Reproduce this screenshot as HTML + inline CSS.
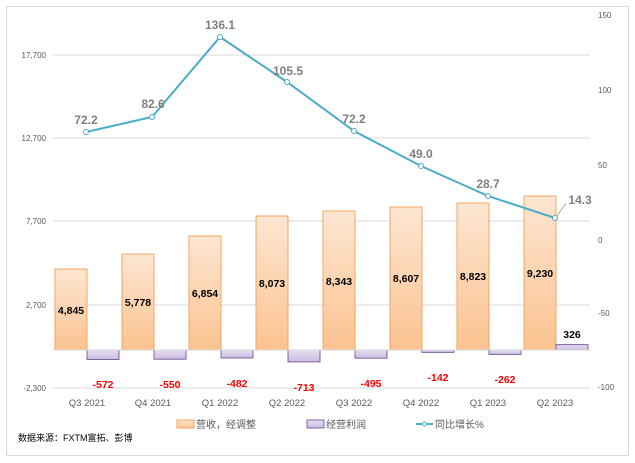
<!DOCTYPE html><html><head><meta charset="utf-8"><style>body{margin:0;background:#fff}svg{display:block;font-family:"Liberation Sans","Noto Sans CJK SC",sans-serif}</style></head><body>
<svg width="635" height="463" viewBox="0 0 635 463">
<rect x="6.5" y="6.5" width="622" height="449" fill="#fff" stroke="#d9d9d9"/>
<g stroke="#d9d9d9" stroke-width="1">
<line x1="53" x2="590" y1="55" y2="55"/><line x1="53" x2="590" y1="138" y2="138"/><line x1="53" x2="590" y1="221" y2="221"/><line x1="53" x2="590" y1="305" y2="305"/><line x1="53" x2="590" y1="388" y2="388"/>
</g>
<g font-size="8" fill="#595959" text-anchor="end">
<text x="46" y="58">17,700</text><text x="46" y="141">12,700</text><text x="46" y="224">7,700</text><text x="46" y="308">2,700</text><text x="46" y="391">-2,300</text>
</g>
<g font-size="8" fill="#595959">
<text x="598" y="18">150</text><text x="598" y="93">100</text><text x="598" y="168">50</text><text x="598" y="243">0</text><text x="598" y="316">-50</text><text x="598" y="390">-100</text>
</g>
<defs><linearGradient id="og" x1="0" y1="0" x2="0" y2="1"><stop offset="0" stop-color="#fde6d2"/><stop offset="1" stop-color="#fbc390"/></linearGradient>
<linearGradient id="pg" x1="0" y1="0" x2="0" y2="1"><stop offset="0" stop-color="#e6e0f0"/><stop offset="1" stop-color="#c8bce0"/></linearGradient></defs>
<g stroke="#f4a460" stroke-width="1" fill="url(#og)">
<rect x="55" y="269" width="32" height="81"/><rect x="122" y="254" width="32" height="96"/><rect x="189" y="236" width="32" height="114"/><rect x="256" y="216" width="32" height="134"/><rect x="323" y="211" width="32" height="139"/><rect x="390" y="207" width="32" height="143"/><rect x="457" y="203" width="32" height="147"/><rect x="524" y="196" width="32" height="154"/>
</g>
<g stroke="#8064a2" stroke-width="1" fill="url(#pg)">
<rect x="87" y="350" width="32" height="9.5"/><rect x="154" y="350" width="32" height="9.2"/><rect x="221" y="350" width="32" height="8"/><rect x="288" y="350" width="32" height="11.9"/><rect x="355" y="350" width="32" height="8.2"/><rect x="422" y="350" width="32" height="2.4"/><rect x="489" y="350" width="32" height="4.4"/><rect x="556" y="344.6" width="32" height="5.4"/>
</g>
<line x1="53" x2="590" y1="350" y2="350" stroke="#d9d9d9"/>
<g font-size="10.5" font-weight="bold" fill="#000" text-anchor="middle">
<text x="71" y="314">4,845</text><text x="138" y="306">5,778</text><text x="205" y="297">6,854</text><text x="272" y="287">8,073</text><text x="339" y="285">8,343</text><text x="406" y="282">8,607</text><text x="473" y="280">8,823</text><text x="540" y="277">9,230</text><text x="572" y="338">326</text>
</g>
<g font-size="10.5" font-weight="bold" fill="#ff0000" text-anchor="middle">
<text x="103" y="388">-572</text><text x="170" y="388">-550</text><text x="237" y="387">-482</text><text x="304" y="391">-713</text><text x="371" y="387">-495</text><text x="438" y="381">-142</text><text x="505" y="383">-262</text>
</g>
<polyline fill="none" stroke="#4bacc6" stroke-width="2" points="86,132 152,117 220,37 287,82 354,131 421,166 488,196 555,218"/>
<g fill="#fff" stroke="#4bacc6" stroke-width="1">
<circle cx="86" cy="132" r="2.5"/><circle cx="152" cy="117" r="2.5"/><circle cx="220" cy="37" r="2.5"/><circle cx="287" cy="82" r="2.5"/><circle cx="354" cy="131" r="2.5"/><circle cx="421" cy="166" r="2.5"/><circle cx="488" cy="196" r="2.5"/><circle cx="555" cy="218" r="2.5"/>
</g>
<line x1="557" y1="216" x2="566" y2="203" stroke="#a6a6a6"/>
<g font-size="12" font-weight="bold" fill="#7f7f7f" text-anchor="middle">
<text x="86" y="124">72.2</text><text x="153" y="108">82.6</text><text x="220" y="29">136.1</text><text x="288" y="75">105.5</text><text x="354" y="123">72.2</text><text x="421" y="158">49.0</text><text x="488" y="188">28.7</text><text x="580" y="204">14.3</text>
</g>
<g font-size="9.5" fill="#595959" text-anchor="middle">
<text x="87" y="406">Q3 2021</text><text x="153" y="406">Q4 2021</text><text x="220" y="406">Q1 2022</text><text x="287" y="406">Q2 2022</text><text x="354" y="406">Q3 2022</text><text x="421" y="406">Q4 2022</text><text x="488" y="406">Q1 2023</text><text x="555" y="406">Q2 2023</text>
</g>
<rect x="177" y="420" width="17" height="8" fill="url(#og)" stroke="#f4a460"/>
<text x="196" y="428" font-size="10" fill="#595959">营收，经调整</text>
<rect x="307" y="420" width="17" height="8" fill="url(#pg)" stroke="#8064a2"/>
<text x="326" y="428" font-size="10" fill="#595959">经营利润</text>
<line x1="416" x2="433" y1="424" y2="424" stroke="#4bacc6" stroke-width="2"/>
<circle cx="424.5" cy="424" r="2" fill="#fff" stroke="#4bacc6"/>
<text x="435" y="428" font-size="10" fill="#595959">同比增长%</text>
<text x="18" y="441" font-size="9" fill="#000">数据来源：FXTM富拓、彭博</text>
</svg></body></html>
